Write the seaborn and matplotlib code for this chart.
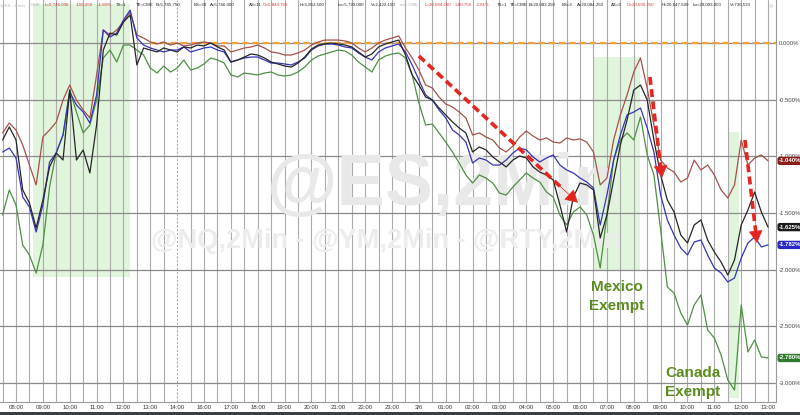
import numpy as np
import pandas as pd
import matplotlib
matplotlib.use("Agg")
import matplotlib.pyplot as plt
import matplotlib.transforms as mtransforms
from matplotlib.patches import Rectangle
import seaborn as sns

sns.set_theme(style="white")
plt.rcParams['font.family'] = ['Liberation Sans', 'DejaVu Sans']

# ---------------- data ----------------
# trading-hour slots counted from 08:00 (the 15:00 session break is skipped), 15-minute steps
hours = np.arange(-0.5, 28.0001, 0.25)

es = [-0.856, -0.741, -0.856, -1.297, -1.412, -1.633, -1.386, -1.094, -0.971, -1.033, -0.415, -1.033, -0.944, -1.147,
      -0.724, -0.062, 0.088, 0.071, 0.185, 0.247, -0.194, -0.044, -0.062, -0.079, -0.044, -0.062, -0.079, -0.035,
      -0.044, -0.018, -0.026, 0.0, -0.035, -0.062, -0.168, -0.150, -0.124, -0.097, -0.106, -0.132, -0.168, -0.185,
      -0.203, -0.212, -0.177, -0.124, -0.053, -0.018, -0.009, 0.0, -0.009, -0.018, -0.035, -0.079, -0.124, -0.097,
      -0.035, -0.009, 0.009, 0.026, -0.106, -0.282,
      -0.371, -0.477, -0.503, -0.574, -0.635, -0.697, -0.750, -0.794, -0.962, -0.918, -0.944, -1.006, -1.050, -1.094,
      -1.033, -0.997, -1.015, -1.094, -1.139, -1.165, -1.209, -1.430, -1.668, -1.359, -1.236, -1.253, -1.297,
      -1.721, -1.518, -1.209, -0.900, -0.680, -0.415, -0.371, -0.503, -0.856, -1.165, -1.386, -1.492, -1.695, -1.765,
      -1.606, -1.562, -1.739, -1.845, -1.933, -2.048, -1.915, -1.606, -1.474, -1.315, -1.492, -1.625]

nq = [-0.962, -0.927, -1.015, -1.359, -1.447, -1.668, -1.430, -1.050, -0.971, -0.812, -0.432, -0.547, -0.609, -0.706,
      -0.459, 0.115, 0.053, 0.088, 0.203, 0.291, 0.044, -0.018, -0.044, -0.062, -0.079, -0.062, -0.062, -0.035,
      -0.079, -0.062, -0.044, -0.035, -0.062, -0.079, -0.168, -0.150, -0.132, -0.124, -0.124, -0.150, -0.177, -0.177,
      -0.185, -0.194, -0.168, -0.132, -0.062, -0.026, -0.009, -0.009, -0.018, -0.035, -0.044, -0.088, -0.124, -0.150,
      -0.079, -0.044, -0.026, -0.009, -0.079, -0.194,
      -0.327, -0.459, -0.503, -0.591, -0.662, -0.768, -0.812, -0.874, -1.059, -1.015, -1.033, -1.077, -1.077, -1.033,
      -0.971, -0.927, -0.944, -1.006, -1.050, -1.015, -0.988, -1.077, -1.121, -1.147, -1.192, -1.227, -1.280,
      -1.606, -1.342, -1.033, -0.812, -0.635, -0.609, -0.574, -0.750, -0.962, -1.342, -1.562, -1.695, -1.809, -1.871,
      -1.756, -1.739, -1.871, -1.986, -2.030, -2.109, -2.074, -1.898, -1.765, -1.712, -1.800, -1.782]

ym = [-0.794, -0.706, -0.768, -0.900, -1.077, -1.253, -0.830, -0.768, -0.697, -0.503, -0.371, -0.503, -0.591, -0.662,
      -0.282, 0.115, 0.071, 0.115, 0.185, 0.274, 0.071, 0.044, 0.009, -0.009, 0.009, -0.018, 0.0, -0.026,
      -0.018, 0.0, 0.009, 0.0, -0.026, -0.026, -0.079, -0.062, -0.044, -0.035, -0.018, -0.044, -0.079, -0.088,
      -0.106, -0.106, -0.088, -0.062, -0.018, 0.009, 0.026, 0.026, 0.026, 0.018, 0.0, -0.044, -0.079, -0.044,
      0.0, 0.026, 0.044, 0.062, -0.044, -0.132,
      -0.238, -0.371, -0.397, -0.477, -0.538, -0.565, -0.609, -0.662, -0.812, -0.794, -0.830, -0.856, -0.927, -0.962,
      -0.909, -0.830, -0.777, -0.821, -0.856, -0.838, -0.874, -0.883, -0.838, -0.856, -0.847, -0.874, -0.962,
      -1.253, -1.192, -0.856, -0.635, -0.459, -0.256, -0.132, -0.400, -0.724, -1.033, -1.103, -1.139, -1.227, -1.192,
      -1.033, -1.121, -1.077, -1.165, -1.297, -1.368, -1.253, -0.856, -1.077, -1.015, -0.988, -1.040]

rty = [-1.518, -1.297, -1.430, -1.783, -1.871, -2.030, -1.783, -1.271, -0.962, -0.812, -0.415, -0.609, -0.794, -0.724,
       -0.503, -0.132, -0.062, -0.168, -0.018, -0.018, -0.062, -0.106, -0.221, -0.265, -0.203, -0.256, -0.221, -0.150,
       -0.238, -0.221, -0.185, -0.132, -0.150, -0.177, -0.282, -0.300, -0.265, -0.274, -0.282, -0.265, -0.256, -0.282,
       -0.291, -0.282, -0.256, -0.212, -0.150, -0.115, -0.097, -0.079, -0.062, -0.071, -0.106, -0.168, -0.212, -0.256,
       -0.150, -0.115, -0.097, -0.088, -0.132, -0.282,
       -0.530, -0.724, -0.715, -0.794, -0.874, -0.962, -1.059, -1.165, -1.236, -1.165, -1.192, -1.236, -1.324, -1.342,
       -1.271, -1.209, -1.147, -1.192, -1.227, -1.315, -1.359, -1.518, -1.606, -1.492, -1.447, -1.518, -1.695,
       -1.986, -1.518, -1.033, -0.856, -0.794, -0.856, -0.653, -0.988, -1.165, -1.650, -2.154, -2.207, -2.383, -2.489,
       -2.312, -2.224, -2.533, -2.604, -2.754, -2.974, -3.063, -2.312, -2.727, -2.621, -2.771, -2.780]

tickers = ["@RTY", "@YM", "@NQ", "@ES"]
last_values = [-2.780, -1.040, -1.782, -1.625]
tick_labels = ["08:00", "09:00", "10:00", "11:00", "12:00", "13:00", "14:00", "16:00", "17:00", "18:00", "19:00",
               "20:00", "21:00", "22:00", "23:00", "3/6", "01:00", "02:00", "03:00", "04:00", "05:00", "06:00",
               "07:00", "08:00", "09:00", "10:00", "11:00", "12:00", "13:00"]
pct_levels = [0.0, -0.5, -1.0, -1.5, -2.0, -2.5, -3.0]

# shaded windows (start hour, end hour, top %, bottom %)
shade_windows = [(0.63, 4.24, 0.34, -2.065), (21.52, 23.23, -0.124, -2.004), (26.51, 26.92, -0.786, -3.133)]
# dashed red arrows (from hour, from %, to hour, to %)
arrows = [(15.0, -0.115, 20.92, -1.41), (23.6, -0.30, 24.05, -1.19), (27.14, -0.856, 27.59, -1.765)]

# ---------------- figure ----------------
W, H = 800, 415
fig = plt.figure(figsize=(W / 100, H / 100), dpi=100)
fig.patch.set_facecolor("white")
ax = fig.add_axes([0, 13 / H, 776 / W, 402 / H])
ax.set_facecolor("white")
ax.set_xlim(-0.596, 28.295)
ax.set_ylim(-3.1686, 0.3795)


def px(x, y):
    return x / W, 1 - y / H


# shading
for (x0, x1, top, bot) in shade_windows:
    ax.add_patch(Rectangle((x0, bot), x1 - x0, top - bot, fc="#c9ecc0", ec="none", alpha=0.55, zorder=0.5))

# grid
for v in np.arange(-0.5, 28.3, 0.5):
    ls = (0, (2, 1.5)) if abs(v - 6) < 1e-6 else "-"
    ax.axvline(v, color="#ababab", lw=0.8, ls=ls, zorder=1)
for lv in pct_levels:
    ax.axhline(lv, color="#8a8a8a", lw=0.9, zorder=1)

# watermark
ax.text(*px(443, 186), "@ES,2Min", transform=fig.transFigure, ha="center", va="center", fontsize=52,
        fontweight="bold", color="#e8e8e8", zorder=1.5)
ax.text(*px(386, 241), "@NQ,2Min - @YM,2Min - @RTY,2Min", transform=fig.transFigure, ha="center", va="center",
        fontsize=19.5, fontweight="bold", color="#ececec", zorder=1.5)

# reference line at 0
ax.plot([5.0, 28.295], [0, 0], color="#f2a23a", lw=1.6, ls=(0, (3, 1.6)), zorder=2.5)

# series
df = pd.concat([
    pd.DataFrame({"hour": hours, "pct": rty, "ticker": "@RTY"}),
    pd.DataFrame({"hour": hours, "pct": ym, "ticker": "@YM"}),
    pd.DataFrame({"hour": hours, "pct": nq, "ticker": "@NQ"}),
    pd.DataFrame({"hour": hours, "pct": es, "ticker": "@ES"}),
])
palette = {"@RTY": "#4f8f45", "@YM": "#a3524c", "@NQ": "#3535b8", "@ES": "#262626"}
sns.lineplot(data=df, x="hour", y="pct", hue="ticker", hue_order=tickers, palette=palette, estimator=None,
             sort=False, lw=0.9, legend=False, ax=ax, zorder=3)

# arrows
for (x0, y0, x1, y1) in arrows:
    dx, dy = x1 - x0, y1 - y0
    ax.plot([x0, x0 + dx * 0.9], [y0, y0 + dy * 0.9], color="#e3261f", lw=2.6, ls=(0, (2.2, 1.2)),
            solid_capstyle="butt", zorder=4)
    ax.annotate("", xy=(x1, y1), xytext=(x0 + dx * 0.88, y0 + dy * 0.88),
                arrowprops=dict(arrowstyle="-|>,head_width=0.45,head_length=0.8", color="#e3261f", lw=0.5,
                                mutation_scale=10, shrinkA=0, shrinkB=0), zorder=4)

# annotations
green_txt = "#5b8d1e"
ax.text(*px(591, 287), "Mexico", transform=fig.transFigure, ha="left", va="center", fontsize=11,
        fontweight="bold", color=green_txt, zorder=5)
ax.text(*px(589, 306), "Exempt", transform=fig.transFigure, ha="left", va="center", fontsize=11,
        fontweight="bold", color=green_txt, zorder=5)
ax.text(*px(665, 373), "Canada", transform=fig.transFigure, ha="left", va="center", fontsize=11,
        fontweight="bold", color=green_txt, zorder=5)
ax.text(*px(665, 392), "Exempt", transform=fig.transFigure, ha="left", va="center", fontsize=11,
        fontweight="bold", color=green_txt, zorder=5)

# axes styling
ax.set_xlabel("")
ax.set_ylabel("")
ax.set_xticks(range(len(tick_labels)))
ax.set_xticklabels(tick_labels, fontsize=4.3, color="#333333")
ax.yaxis.tick_right()
ax.set_yticks(pct_levels)
ax.set_yticklabels([f"{v:.3f}%" for v in pct_levels], fontsize=4.3, color="#444444")
ax.tick_params(axis="both", length=0, pad=2)
for s in ["top", "left"]:
    ax.spines[s].set_visible(False)
for s in ["right", "bottom"]:
    ax.spines[s].set_color("#999999")
    ax.spines[s].set_linewidth(0.8)

# last value boxes
box_colors = {"@RTY": "#2f7a2f", "@YM": "#8b1d1d", "@NQ": "#2828c8", "@ES": "#1a1a1a"}
trans = mtransforms.blended_transform_factory(ax.transAxes, ax.transData)
for tk, val in zip(tickers, last_values):
    ax.text(1.004, val, f"{val:.3f}%", transform=trans, ha="left", va="center", fontsize=4.3, fontweight="bold",
            color="white", clip_on=False, zorder=6,
            bbox=dict(boxstyle="round,pad=0.28,rounding_size=0.4", fc=box_colors[tk], ec="none"))

# header strip
red = "#d83434"
dark = "#222222"
gray = "#b5b5b5"
header = [(0, "@ES - 2 min", gray), (31, "CME", gray), (45, "L=5,746.000", red), (76, "-105.250", red),
          (98, "-1.80%", red), (116, "TS=1", dark), (136, "TE=CME", dark), (156, "B=5,745.750", dark),
          (194, "BS=38", dark), (210, "A=5,746.000", dark), (249, "AS=11", dark), (263, "O=5,844.750", red),
          (300, "H=5,853.500", dark), (338, "Lo=5,720.000", dark), (371, "V=2,422,150", dark),
          (400, "min CME", gray), (425, "L=20,084.250", red), (455, "-580.750", red), (476, "-2.81%", red),
          (497, "TS=1", dark), (510, "TE=CME", dark), (529, "B=20,083.250", dark), (562, "BS=3", dark),
          (577, "A=20,084.250", dark), (611, "AS=3", dark), (627, "O=20,605.250", red),
          (662, "H=20,647.500", dark), (693, "Lo=20,003.000", dark), (730, "V=730,533", dark), (769, "@...", gray)]
for (x, s, c) in header:
    fig.text(x / W, 1 - 5 / H, s, fontsize=3.2, color=c, ha="left", va="center")

# bottom dark bar
fig.patches.append(Rectangle((0, 0), 1, 3 / H, transform=fig.transFigure, fc="#3a3f45", ec="none"))

fig.savefig("out.png", dpi=100, facecolor="white")
